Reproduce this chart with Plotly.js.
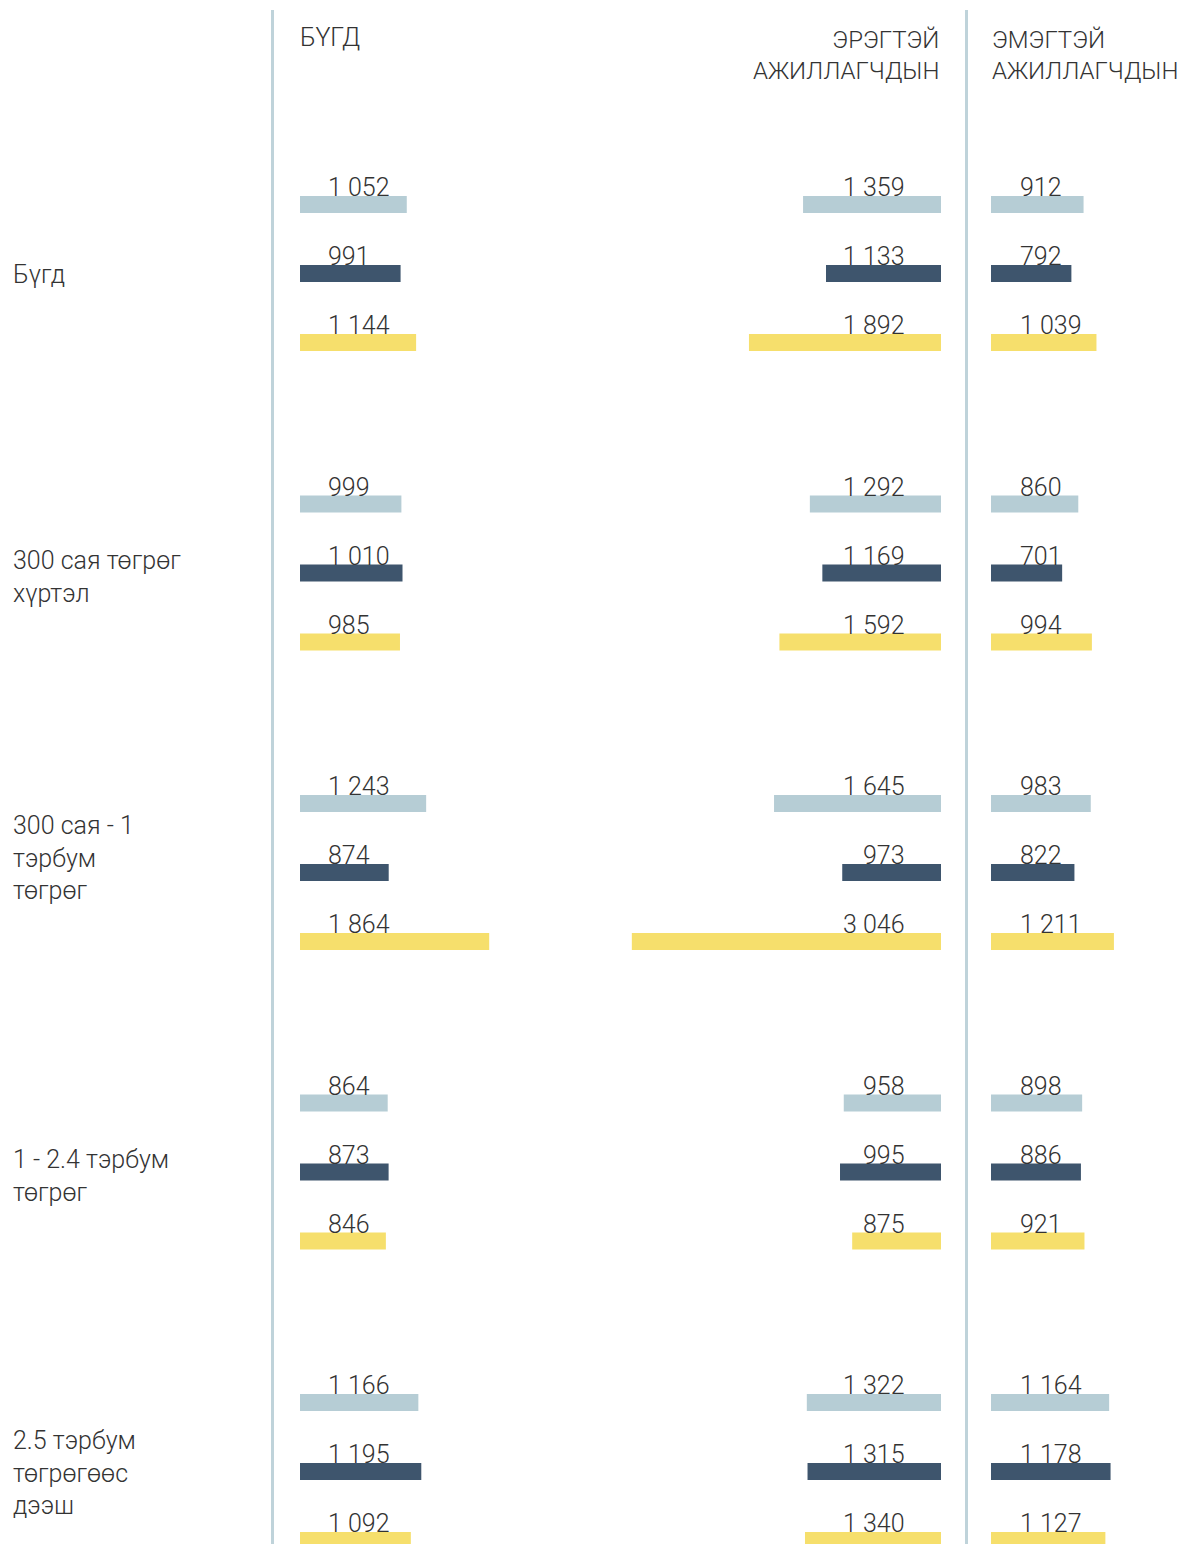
<!DOCTYPE html>
<html>
<head>
<meta charset="utf-8">
<script src="https://cdn.plot.ly/plotly-3.0.1.min.js"></script>
<style>html,body{margin:0;padding:0;background:#fff;}#chart{width:1183px;height:1544px;}</style>
</head>
<body>
<div id="chart"></div>
<script>
// ---- Data ----
const categories = ["Бүгд", "300 сая төгрөг<br>хүртэл", "300 сая - 1<br>тэрбум<br>төгрөг", "1 - 2.4 тэрбум<br>төгрөг", "2.5 тэрбум<br>төгрөгөөс<br>дээш"];
const panelTitles = ["БҮГД", "ЭРЭГТЭЙ<br>АЖИЛЛАГЧДЫН", "ЭМЭГТЭЙ<br>АЖИЛЛАГЧДЫН"];

const allLight  = [1052, 999, 1243, 864, 1166];
const allDark   = [991, 1010, 874, 873, 1195];
const allYellow = [1144, 985, 1864, 846, 1092];

const maleLight  = [1359, 1292, 1645, 958, 1322];
const maleDark   = [1133, 1169, 973, 995, 1315];
const maleYellow = [1892, 1592, 3046, 875, 1340];

const femaleLight  = [912, 860, 983, 898, 1164];
const femaleDark   = [792, 701, 822, 886, 1178];
const femaleYellow = [1039, 994, 1211, 921, 1127];

// ---- Layout constants ----
const W = 1183, H = 1544;
const K = 0.1015;             // px per unit
const groupPx = 299.5, firstCenterPx = 273.5, rowPx = 69, barPx = 17;
const rowOff = rowPx / groupPx;
const colors = ["#b6cdd5", "#3e556d", "#f6df6c"];
const txtColor = "#333333";
const FONT = "Roboto, 'Open Sans', sans-serif";
const catShift = [-1, -4, 15, -4, -1];

const panels = [
  {series: [allLight, allDark, allYellow], xa: "x", axis: "xaxis", d0: 300, d1: 620, reversed: false, labelX: 326, anchor: "left"},
  {series: [maleLight, maleDark, maleYellow], xa: "x2", axis: "xaxis2", d0: 620, d1: 941, reversed: true, labelX: 907, anchor: "right"},
  {series: [femaleLight, femaleDark, femaleYellow], xa: "x3", axis: "xaxis3", d0: 991, d1: 1183, reversed: false, labelX: 1018, anchor: "left"}
];

function fmt(v) { return String(v).replace(/\B(?=(\d{3})+(?!\d))/g, " "); }

const traces = [];
const annotations = [];
const layout = {
  width: W, height: H,
  margin: {l: 0, r: 0, t: 0, b: 0, pad: 0},
  paper_bgcolor: "#ffffff", plot_bgcolor: "rgba(0,0,0,0)",
  showlegend: false,
  barmode: "overlay",
  font: {family: FONT, color: txtColor},
  yaxis: {
    range: [(H - firstCenterPx) / groupPx, -firstCenterPx / groupPx],
    domain: [0, 1], visible: false, fixedrange: true
  },
  shapes: [],
  annotations: annotations
};

panels.forEach((p, pi) => {
  const widthPx = p.d1 - p.d0;
  const maxU = widthPx / K;
  layout[p.axis] = {
    domain: [p.d0 / W, p.d1 / W],
    range: p.reversed ? [maxU, 0] : [0, maxU],
    visible: false, fixedrange: true, anchor: "y"
  };
  p.series.forEach((vals, si) => {
    const ys = categories.map((c, gi) => gi + (si - 1) * rowOff);
    traces.push({
      type: "bar", orientation: "h",
      x: vals, y: ys, xaxis: p.xa, yaxis: "y",
      width: barPx / groupPx,
      marker: {color: colors[si], line: {width: 0}},
      hoverinfo: "x"
    });
    vals.forEach((v, gi) => {
      annotations.push({
        xref: "paper", yref: "y",
        x: p.labelX / W, y: ys[gi],
        xanchor: p.anchor, yanchor: "middle", yshift: 17,
        text: fmt(v), showarrow: false,
        font: {family: FONT, size: 25, color: txtColor, weight: 300}
      });
    });
  });
});

// category labels
categories.forEach((c, gi) => {
  annotations.push({
    xref: "paper", yref: "y", x: 11 / W, y: gi, yshift: catShift[gi],
    xanchor: "left", yanchor: "middle", align: "left",
    text: c, showarrow: false,
    font: {family: FONT, size: 25, color: txtColor, weight: 300}
  });
});

// panel headers
annotations.push({xref: "paper", yref: "paper", x: 298 / W, y: 1 - 38 / H, xanchor: "left", yanchor: "middle", align: "left",
  text: panelTitles[0], showarrow: false, font: {family: FONT, size: 25, color: txtColor, weight: 300}});
annotations.push({xref: "paper", yref: "paper", x: 941 / W, y: 1 - 55 / H, xanchor: "right", yanchor: "middle", align: "right",
  text: panelTitles[1], showarrow: false, font: {family: FONT, size: 24, color: txtColor, weight: 300}});
annotations.push({xref: "paper", yref: "paper", x: 990 / W, y: 1 - 55 / H, xanchor: "left", yanchor: "middle", align: "left",
  text: panelTitles[2], showarrow: false, font: {family: FONT, size: 24, color: txtColor, weight: 300}});

// vertical separators
[272.5, 966.5].forEach(px => {
  layout.shapes.push({type: "line", xref: "paper", yref: "paper", x0: px / W, x1: px / W, y0: 1 - 10 / H, y1: 0,
    line: {color: "#bfd3da", width: 3}});
});

Plotly.newPlot("chart", traces, layout, {displayModeBar: false, staticPlot: true});
</script>
</body>
</html>
